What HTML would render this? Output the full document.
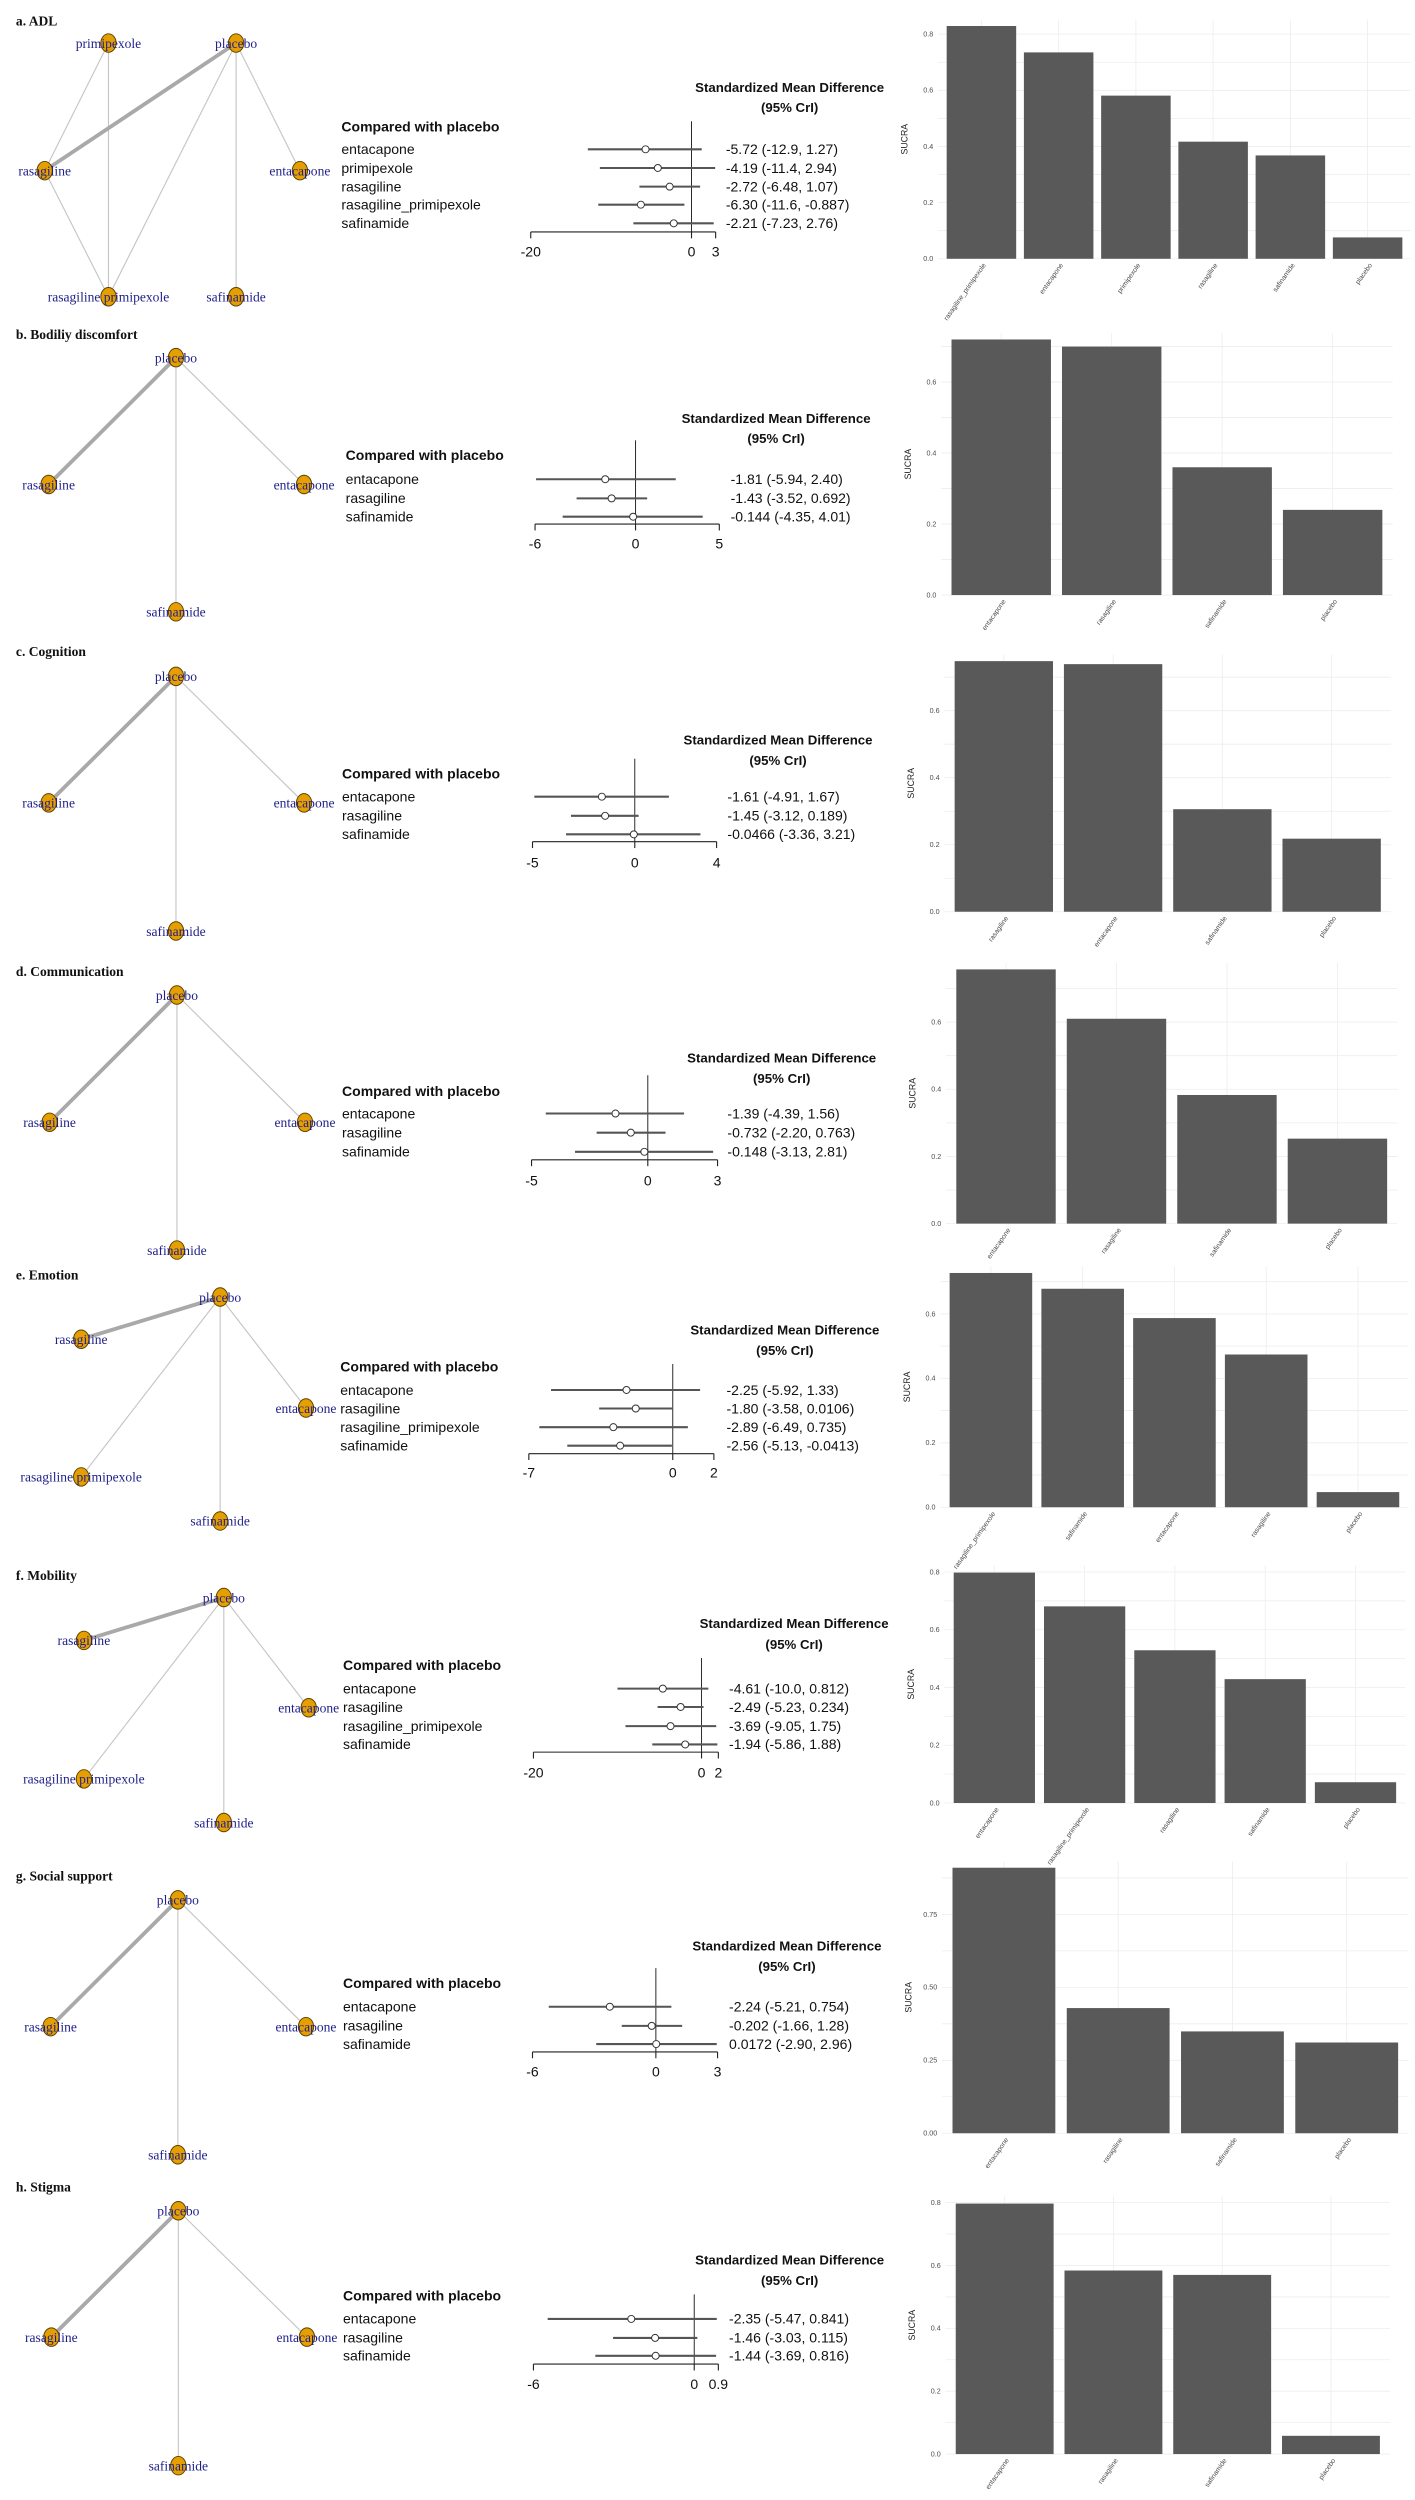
<!DOCTYPE html>
<html><head><meta charset="utf-8"><style>
html,body{margin:0;padding:0;background:#fff;}
svg{display:block;}
</style></head><body>
<svg id="chart" xmlns="http://www.w3.org/2000/svg" width="1415" height="2500" viewBox="0 0 887 1567.1" preserveAspectRatio="none"></svg>
<script>
const panelTitles = ["a. ADL","b. Bodiliy discomfort","c. Cognition","d. Communication","e. Emotion","f. Mobility","g. Social support","h. Stigma"];
const forestLabels = [
 ["entacapone","primipexole","rasagiline","rasagiline_primipexole","safinamide"],
 ["entacapone","rasagiline","safinamide"],
 ["entacapone","rasagiline","safinamide"],
 ["entacapone","rasagiline","safinamide"],
 ["entacapone","rasagiline","rasagiline_primipexole","safinamide"],
 ["entacapone","rasagiline","rasagiline_primipexole","safinamide"],
 ["entacapone","rasagiline","safinamide"],
 ["entacapone","rasagiline","safinamide"]];
const forestMean = [[-5.72,-4.19,-2.72,-6.30,-2.21],[-1.81,-1.43,-0.144],[-1.61,-1.45,-0.0466],[-1.39,-0.732,-0.148],[-2.25,-1.80,-2.89,-2.56],[-4.61,-2.49,-3.69,-1.94],[-2.24,-0.202,0.0172],[-2.35,-1.46,-1.44]];
const forestLow = [[-12.9,-11.4,-6.48,-11.6,-7.23],[-5.94,-3.52,-4.35],[-4.91,-3.12,-3.36],[-4.39,-2.20,-3.13],[-5.92,-3.58,-6.49,-5.13],[-10.0,-5.23,-9.05,-5.86],[-5.21,-1.66,-2.90],[-5.47,-3.03,-3.69]];
const forestHigh = [[1.27,2.94,1.07,-0.887,2.76],[2.40,0.692,4.01],[1.67,0.189,3.21],[1.56,0.763,2.81],[1.33,0.0106,0.735,-0.0413],[0.812,0.234,1.75,1.88],[0.754,1.28,2.96],[0.841,0.115,0.816]];
const forestText = [
 ["-5.72 (-12.9, 1.27)","-4.19 (-11.4, 2.94)","-2.72 (-6.48, 1.07)","-6.30 (-11.6, -0.887)","-2.21 (-7.23, 2.76)"],
 ["-1.81 (-5.94, 2.40)","-1.43 (-3.52, 0.692)","-0.144 (-4.35, 4.01)"],
 ["-1.61 (-4.91, 1.67)","-1.45 (-3.12, 0.189)","-0.0466 (-3.36, 3.21)"],
 ["-1.39 (-4.39, 1.56)","-0.732 (-2.20, 0.763)","-0.148 (-3.13, 2.81)"],
 ["-2.25 (-5.92, 1.33)","-1.80 (-3.58, 0.0106)","-2.89 (-6.49, 0.735)","-2.56 (-5.13, -0.0413)"],
 ["-4.61 (-10.0, 0.812)","-2.49 (-5.23, 0.234)","-3.69 (-9.05, 1.75)","-1.94 (-5.86, 1.88)"],
 ["-2.24 (-5.21, 0.754)","-0.202 (-1.66, 1.28)","0.0172 (-2.90, 2.96)"],
 ["-2.35 (-5.47, 0.841)","-1.46 (-3.03, 0.115)","-1.44 (-3.69, 0.816)"]];
const forestDomain = [[-20,3],[-6,5],[-5,4],[-5,3],[-7,2],[-20,2],[-6,3],[-6,0.9]];
const forestTicks = [["-20","0","3"],["-6","0","5"],["-5","0","4"],["-5","0","3"],["-7","0","2"],["-20","0","2"],["-6","0","3"],["-6","0","0.9"]];
const sucraCats = [
 ["rasagiline_primipexole","entacapone","primipexole","rasagiline","safinamide","placebo"],
 ["entacapone","rasagiline","safinamide","placebo"],
 ["rasagiline","entacapone","safinamide","placebo"],
 ["entacapone","rasagiline","safinamide","placebo"],
 ["rasagiline_primipexole","safinamide","entacapone","rasagiline","placebo"],
 ["entacapone","rasagiline_primipexole","rasagiline","safinamide","placebo"],
 ["entacapone","rasagiline","safinamide","placebo"],
 ["entacapone","rasagiline","safinamide","placebo"]];
const sucraVals = [[0.829,0.735,0.581,0.417,0.368,0.076],[0.72,0.70,0.36,0.24],[0.748,0.739,0.306,0.218],[0.757,0.61,0.383,0.253],[0.727,0.678,0.587,0.474,0.047],[0.798,0.681,0.529,0.429,0.072],[0.91,0.429,0.349,0.311],[0.797,0.584,0.570,0.058]];
const sucraTicks = [["0.0","0.2","0.4","0.6","0.8"],["0.0","0.2","0.4","0.6"],["0.0","0.2","0.4","0.6"],["0.0","0.2","0.4","0.6"],["0.0","0.2","0.4","0.6"],["0.0","0.2","0.4","0.6","0.8"],["0.00","0.25","0.50","0.75"],["0.0","0.2","0.4","0.6","0.8"]];

const star = [["placebo","rasagiline",1],["placebo","entacapone",0],["placebo","safinamide",0]];
const layout = [
 {t:13,nodes:{primipexole:[68,27],placebo:[148,27],rasagiline:[28,107],entacapone:[188,107],rasagiline_primipexole:[68,186],safinamide:[148,186]},
  edges:[["rasagiline","primipexole",0],["primipexole","rasagiline_primipexole",0],["placebo","entacapone",0],["placebo","safinamide",0],["placebo","rasagiline_primipexole",0],["rasagiline","rasagiline_primipexole",0],["placebo","rasagiline",1]],
  comp:[214,79.4],rows:[93.6,105.3,117,128.3,140],fx:[332.7,448.6],axisY:145.4,labY:157.8,zeroTop:76,hdr:[495,54.7,67.3],valX:455,sz:162.2,su:176,bx:[591,881.5]},
 {t:209.6,nodes:{placebo:[110.3,224.2],rasagiline:[30.5,303.7],entacapone:[190.6,303.7],safinamide:[110.3,383.5]},edges:star,
  comp:[216.7,285.5],rows:[300.4,312.4,323.9],fx:[335.4,450.9],axisY:328.5,labY:340.8,zeroTop:276,hdr:[486.5,262,274.8],valX:458,sz:373,su:222.5,bx:[593,870]},
 {t:408.3,nodes:{placebo:[110.3,424],rasagiline:[30.5,503.3],entacapone:[190.6,503.3],safinamide:[110.3,583.6]},edges:star,
  comp:[214.4,485.1],rows:[499.4,511.4,523],fx:[333.8,449.2],axisY:527.6,labY:540.9,zeroTop:475.6,hdr:[487.7,463.6,476.4],valX:456,sz:571.5,su:210,bx:[595,869]},
 {t:608.7,nodes:{placebo:[110.9,623.7],rasagiline:[31.1,703.5],entacapone:[191.2,703.5],safinamide:[110.9,783.6]},edges:star,
  comp:[214.4,684],rows:[698,710,722],fx:[333.2,449.8],axisY:727,labY:740,zeroTop:674,hdr:[490,663,676],valX:456,sz:767,su:210.5,bx:[596,873]},
 {t:799.2,nodes:{placebo:[138,813],rasagiline:[50.9,839.5],entacapone:[191.8,882.6],rasagiline_primipexole:[50.9,925.8],safinamide:[138,953.4]},
  edges:[["placebo","entacapone",0],["placebo","safinamide",0],["placebo","rasagiline_primipexole",0],["placebo","rasagiline",1]],
  comp:[213.3,856.7],rows:[871.3,882.9,894.6,906.2],fx:[331.5,447.5],axisY:911.2,labY:923.2,zeroTop:855,hdr:[492,833.4,846.4],valX:455.4,sz:944.8,su:202,bx:[592.4,880]},
 {t:987.5,nodes:{placebo:[140.3,1001.4],rasagiline:[52.6,1028.3],entacapone:[193.5,1070.5],rasagiline_primipexole:[52.6,1115.1],safinamide:[140.3,1142.4]},
  edges:[["placebo","entacapone",0],["placebo","safinamide",0],["placebo","rasagiline_primipexole",0],["placebo","rasagiline",1]],
  comp:[215,1043.8],rows:[1058.5,1070,1082,1093.5],fx:[334.4,450.3],axisY:1098.3,labY:1111.3,zeroTop:1039.3,hdr:[497.8,1017.4,1030.7],valX:457,sz:1130.2,su:181,bx:[595,878]},
 {t:1175.8,nodes:{placebo:[111.5,1190.9],rasagiline:[31.7,1270.4],entacapone:[191.8,1270.4],safinamide:[111.5,1350.7]},edges:star,
  comp:[215,1243.3],rows:[1257.9,1269.9,1281.3],fx:[333.8,449.8],axisY:1286.2,labY:1298.7,zeroTop:1233.7,hdr:[493.3,1219.5,1232.4],valX:457,sz:1337.2,su:182.9,bx:[593.5,880]},
 {t:1370.7,nodes:{placebo:[111.8,1385.8],rasagiline:[32.2,1465],entacapone:[192.4,1465],safinamide:[111.8,1545.6]},edges:star,
  comp:[215,1439],rows:[1453.6,1465.5,1476.7],fx:[334.4,450.3],axisY:1481.9,labY:1494.4,zeroTop:1438.2,hdr:[495,1416.4,1429.2],valX:457,sz:1538.3,su:197,bx:[595.7,868.4]}
];

const NS="http://www.w3.org/2000/svg";
const svg=document.getElementById('chart');
function mk(parent,tag,attrs,txt){const e=document.createElementNS(NS,tag);for(const k in attrs)e.setAttribute(k,attrs[k]);if(txt!==undefined)e.textContent=txt;parent.appendChild(e);return e;}
const SANS='"Liberation Sans Narrow","Liberation Sans",sans-serif';
const SERIF='"Liberation Serif",serif';

layout.forEach((L,p)=>{
  const g=mk(svg,'g',{});
  
  
  const tt=mk(g,'text',{x:10,y:L.t+3,'font-family':SERIF,'font-weight':'bold','font-size':8.5,fill:'#111'},panelTitles[p]);
  
  
  // network
  const net=mk(g,'g',{});
  
  
  L.edges.forEach(ed=>{
    const a=L.nodes[ed[0]],b=L.nodes[ed[1]];
    const ln=mk(net,'line',{x1:a[0],y1:a[1],x2:b[0],y2:b[1],stroke:ed[2]?'#a9a9a9':'#c4c4c4','stroke-width':ed[2]?2.4:0.7});
    
    
  });
  for(const n in L.nodes){
    const c=L.nodes[n];
    const ci=mk(net,'ellipse',{cx:c[0],cy:c[1],rx:4.8,ry:5.8,fill:'#E69F00',stroke:'#5a4000','stroke-width':0.6});
    
    
  }
  for(const n in L.nodes){
    const c=L.nodes[n];
    const tx=mk(net,'text',{x:c[0],y:c[1]+3,'text-anchor':'middle','font-family':SERIF,'font-size':8.5,fill:'#1f1f8a'},n.replace('_',' '));
    
    
  }
  // forest
  const fo=mk(g,'g',{});
  
  
  const ch=mk(fo,'text',{x:L.comp[0],y:L.comp[1]+3,'font-family':SANS,'font-weight':'bold','font-size':8.8,fill:'#111'},'Compared with placebo');
  
  
  const h1=mk(fo,'text',{x:L.hdr[0],y:L.hdr[1]+3,'text-anchor':'middle','font-family':SANS,'font-weight':'bold','font-size':8.3,fill:'#111'},'Standardized Mean Difference');
  
  
  const h2=mk(fo,'text',{x:L.hdr[0],y:L.hdr[2]+3,'text-anchor':'middle','font-family':SANS,'font-weight':'bold','font-size':8.3,fill:'#111'},'(95% CrI)');
  
  
  const dm=forestDomain[p];
  const fxs=v=>L.fx[0]+(v-dm[0])/(dm[1]-dm[0])*(L.fx[1]-L.fx[0]);
  const zl=mk(fo,'line',{x1:fxs(0),x2:fxs(0),y1:L.zeroTop,y2:L.axisY,stroke:'#222','stroke-width':0.6});
  
  
  const ax=mk(fo,'line',{x1:fxs(dm[0]),x2:fxs(dm[1]),y1:L.axisY,y2:L.axisY,stroke:'#222','stroke-width':0.7});
  
  
  const tv=[dm[0],0,dm[1]];
  tv.forEach((v,i)=>{
    const tk=mk(fo,'line',{x1:fxs(v),x2:fxs(v),y1:L.axisY,y2:L.axisY+4,stroke:'#222','stroke-width':0.7});
    
    
    const tl=mk(fo,'text',{x:fxs(v),y:L.labY+3,'text-anchor':'middle','font-family':SANS,'font-size':8.8,fill:'#111'},forestTicks[p][i]);
    
    
  });
  forestLabels[p].forEach((lab,i)=>{
    const y=L.rows[i];
    const lt=mk(fo,'text',{x:L.comp[0],y:y+3,'font-family':SANS,'font-size':8.8,fill:'#111'},lab);
    
    
    const ci=mk(fo,'line',{x1:fxs(forestLow[p][i]),x2:fxs(forestHigh[p][i]),y1:y,y2:y,stroke:'#555','stroke-width':1.3});
    
    
    const pt=mk(fo,'circle',{cx:fxs(forestMean[p][i]),cy:y,r:2.2,fill:'#fff',stroke:'#333','stroke-width':0.6});
    
    
    const vt=mk(fo,'text',{x:L.valX,y:y+3,'font-family':SANS,'font-size':8.8,fill:'#111'},forestText[p][i]);
    
    
  });
  // sucra
  const sc=mk(g,'g',{});
  
  
  const vals=sucraVals[p],cats=sucraCats[p];
  const ys=v=>L.sz-v*L.su;
  const tickNums=sucraTicks[p].map(Number);
  const tstep=tickNums[1]-tickNums[0];
  const top=Math.min(ys(Math.max(...vals))-4,ys(tickNums[tickNums.length-1])-4);
  const band=(L.bx[1]-L.bx[0])/cats.length;
  for(let v=0;v<=tickNums[tickNums.length-1]+tstep;v+=tstep/2){
    if(ys(v)<top) break;
    const gl=mk(sc,'line',{x1:L.bx[0]-3,x2:L.bx[1]+3,y1:ys(v),y2:ys(v),stroke:'#ededed','stroke-width':0.5});
    
    
  }
  cats.forEach((c,i)=>{
    const cx=L.bx[0]+band*(i+0.5);
    const gl=mk(sc,'line',{x1:cx,x2:cx,y1:top,y2:L.sz,stroke:'#ededed','stroke-width':0.5});
    
    
  });
  sucraTicks[p].forEach((t,i)=>{
    const tl=mk(sc,'text',{x:L.bx[0]-6,y:ys(tickNums[i])+1.5,'text-anchor':'end','font-family':'"Liberation Sans",sans-serif','font-size':4.5,fill:'#4d4d4d'},t);
    
    
  });
  const yl=mk(sc,'text',{x:0,y:0,transform:`translate(${L.bx[0]-22},${(L.sz+top)/2}) rotate(-90)`,'text-anchor':'middle','font-family':'"Liberation Sans",sans-serif','font-size':5.5,fill:'#222'},'SUCRA');
  
  
  cats.forEach((c,i)=>{
    const x0=L.bx[0]+band*i+band*0.05;
    const b=mk(sc,'rect',{x:x0,y:ys(vals[i]),width:band*0.9,height:L.sz-ys(vals[i]),fill:'#595959'});
    
    
    const cx=L.bx[0]+band*(i+0.5);
    const cl=mk(sc,'text',{x:0,y:0,transform:`translate(${cx+3},${L.sz+4}) rotate(-55)`,'text-anchor':'end','font-family':'"Liberation Sans",sans-serif','font-size':4.3,fill:'#4d4d4d'},c);
    
    
  });
});
</script>
</body></html>
